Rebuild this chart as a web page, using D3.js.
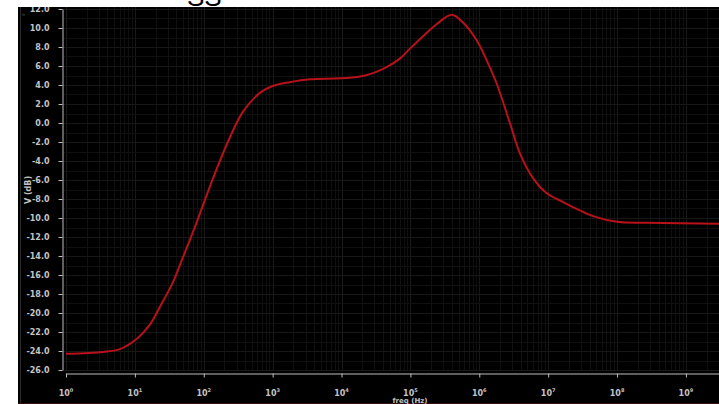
<!DOCTYPE html>
<html lang="en">
<head>
    <meta charset="UTF-8">
    <title>AC response V (dB)</title>
    <script src="https://d3js.org/d3.v7.min.js"></script>
    <style>
        body { margin: 0; background: #fff; }
        svg { display: block; }
        .tick text { font: bold 8px "DejaVu Sans", sans-serif; fill: #c4c4c4; }
    </style>
</head>
<body>
<script>
    // log10(freq in Hz) and gain in dB
    const logFreq = [0.0, 0.54, 0.78, 1.03, 1.22, 1.36, 1.55, 1.70, 1.90, 2.13, 2.38, 2.57, 2.82, 3.00, 3.25, 3.54,
        3.98, 4.27, 4.46, 4.66, 4.85, 4.99, 5.18, 5.38, 5.60, 5.76, 5.97, 6.15, 6.26, 6.44, 6.59, 6.78, 6.98,
        7.21, 7.46, 7.65, 8.00, 8.43, 9.48];
    const gainDb = [-24.3, -24.1, -23.8, -22.7, -21.2, -19.4, -16.8, -14.1, -10.4, -5.9, -1.5, 1.2, 3.2, 3.9, 4.3, 4.6,
        4.7, 4.9, 5.25, 5.9, 6.8, 7.8, 9.1, 10.4, 11.4, 10.6, 8.6, 5.9, 4.0, 0.1, -3.2, -5.8, -7.4,
        -8.3, -9.2, -9.8, -10.4, -10.5, -10.6];
    const decades = [0, 1, 2, 3, 4, 5, 6, 7, 8, 9];
    const yMajor = d3.range(-26, 12.01, 2);

    const width = 719, height = 404;
    const svg = d3.select("body").append("svg")
        .attr("width", width)
        .attr("height", height);

    const x = d3.scaleLog().domain([1, Math.pow(10, 9.48)]).range([66, 719]);
    const y = d3.scaleLinear().domain([-26, 12]).range([370, 9]);

    // black panel
    svg.append("rect").attr("x", 18).attr("y", 7).attr("width", width - 18).attr("height", height - 7).attr("fill", "#000");
    svg.append("line").attr("x1", 20.5).attr("x2", 20.5).attr("y1", 7).attr("y2", height).attr("stroke", "#2a2a2a");
    svg.append("line").attr("x1", 18).attr("x2", width).attr("y1", 403.5).attr("y2", 403.5).attr("stroke", "#3a0b0b");
    svg.append("text").attr("x", 22).attr("y", 16).attr("fill", "#555").style("font", "4px sans-serif").text("In");

    // minor/major positions
    const xMinor = [];
    decades.forEach(d => { for (let k = 1; k <= 9; k++) { const v = k * Math.pow(10, d); if (v <= x.domain()[1]) xMinor.push(v); } });
    const yMinor = d3.range(-26, 12.01, 0.5);
    const yGrid = d3.range(-26, 12.01, 1);

    // faint grid
    const grid = svg.append("g");
    grid.selectAll(".gx").data(xMinor).join("line")
        .attr("x1", d => Math.round(x(d)) + 0.5).attr("x2", d => Math.round(x(d)) + 0.5)
        .attr("y1", 7).attr("y2", 370)
        .attr("stroke", d => decades.some(p => Math.pow(10, p) === d) ? "#191919" : "#101010")
        .attr("stroke-width", 1);
    grid.selectAll(".gy").data(yGrid).join("line")
        .attr("x1", 63).attr("x2", width)
        .attr("y1", d => Math.round(y(d)) + 0.5).attr("y2", d => Math.round(y(d)) + 0.5)
        .attr("stroke", d => d % 2 === 0 ? "#171717" : "#101010")
        .attr("stroke-width", 1);

    // y axis
    const yAxisG = svg.append("g").attr("transform", "translate(62.5,0)");
    yAxisG.call(d3.axisLeft(y).tickValues(yMinor).tickSize(2).tickFormat("").tickSizeOuter(0));
    yAxisG.call(d3.axisLeft(y).tickValues(yMajor).tickSize(4).tickSizeOuter(0).tickPadding(9)
        .tickFormat(d => d.toFixed(1)));
    yAxisG.selectAll("path, line").attr("stroke", "#bdbdbd");

    // x axis
    const xAxisG = svg.append("g").attr("transform", "translate(0,373.5)");
    xAxisG.call(d3.axisBottom(x).tickValues(xMinor).tickSize(2).tickFormat("").tickSizeOuter(0));
    xAxisG.call(d3.axisBottom(x).tickValues(decades.map(d => Math.pow(10, d))).tickSize(4).tickSizeOuter(0).tickFormat(""));
    xAxisG.selectAll("path, line").attr("stroke", "#bdbdbd");

    const xl = svg.append("g").selectAll("text").data(decades).join("text")
        .attr("x", d => x(Math.pow(10, d)))
        .attr("y", 396)
        .attr("text-anchor", "middle")
        .attr("fill", "#c4c4c4")
        .style("font", "bold 8px 'DejaVu Sans', sans-serif");
    xl.append("tspan").text("10");
    xl.append("tspan").attr("dy", -4).style("font-size", "5px").text(d => d);

    svg.append("text")
        .attr("x", 410).attr("y", 403)
        .attr("text-anchor", "middle")
        .attr("fill", "#c4c4c4")
        .style("font", "bold 7px 'DejaVu Sans', sans-serif")
        .text("freq (Hz)");

    svg.append("text")
        .attr("transform", "translate(31,190) rotate(-90)")
        .attr("text-anchor", "middle")
        .attr("fill", "#c4c4c4")
        .style("font", "bold 8px 'DejaVu Sans', sans-serif")
        .text("V (dB)");

    // response curve
    const line = d3.line()
        .x((d, i) => x(Math.pow(10, logFreq[i])))
        .y(d => y(d))
        .curve(d3.curveCatmullRom.alpha(0.5));
    svg.append("path")
        .datum(gainDb)
        .attr("d", line)
        .attr("fill", "none")
        .attr("stroke", "#b8111a")
        .attr("stroke-width", 2);

    // white top band with cut-off slide title
    svg.append("rect").attr("x", 0).attr("y", 0).attr("width", width).attr("height", 7).attr("fill", "#fff");
    svg.append("text")
        .attr("x", 187).attr("y", 6)
        .attr("fill", "#000")
        .style("font", "26px 'Liberation Sans', sans-serif")
        .text("SS");
</script>
</body>
</html>
